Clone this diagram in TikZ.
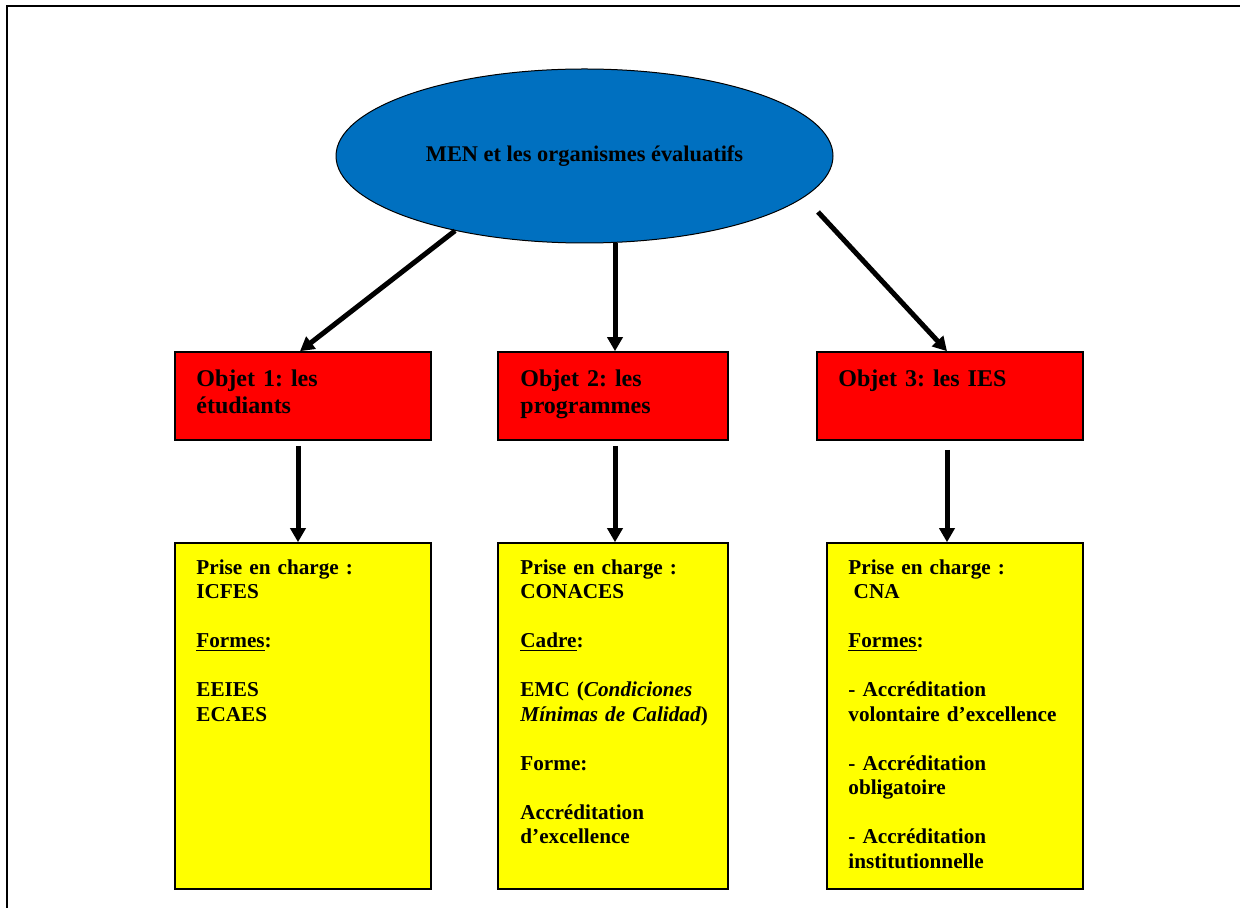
\documentclass[tikz,border=0pt]{standalone}
\usepackage{fontspec}
\setmainfont{Liberation Serif}
\usetikzlibrary{shapes.geometric,arrows.meta}
\definecolor{menblue}{RGB}{0,112,192}
\definecolor{objred}{RGB}{255,0,0}
\definecolor{formyellow}{RGB}{255,255,0}
\frenchspacing
\begin{document}
\begin{tikzpicture}[x=0.5pt,y=-0.5pt,
  frame/.style={line width=1.3pt},
  objbox/.style={draw=black,line width=0.8pt,fill=objred,minimum height=44pt,inner sep=0pt},
  formbox/.style={draw=black,line width=0.8pt,fill=formyellow,minimum height=173pt,inner sep=0pt},
  objtext/.style={anchor=north west,inner sep=0pt,text width=120pt,align=left,font=\fontsize{12}{13.5}\selectfont\bfseries},
  formtext/.style={anchor=north west,inner sep=0pt,text width=125pt,align=left,font=\fontsize{10.6}{12.25}\selectfont\bfseries},
  arr/.style={line width=2.5pt,-{Triangle[length=7pt,width=7.5pt]}}
]
\useasboundingbox (0,0) rectangle (1240,908);
\draw[frame] (7,908) -- (7,6) -- (1240,6);

\node[ellipse,draw=black,line width=0.5pt,fill=menblue,minimum width=248.5pt,minimum height=87pt,inner sep=0pt,font=\fontsize{11.2}{13}\selectfont\bfseries] (men) at (584.5,156) {MEN et les organismes évaluatifs};

\node[objbox,minimum width=128pt] (o1) at (303,396) {};
\node[objbox,minimum width=115pt] (o2) at (613,396) {};
\node[objbox,minimum width=133pt] (o3) at (950,396) {};

\node[formbox,minimum width=128pt] (f1) at (303,716) {};
\node[formbox,minimum width=115pt] (f2) at (613,716) {};
\node[formbox,minimum width=128pt] (f3) at (955,716) {};

\node[objtext] (ot1) at (196,369) {Objet 1: les\\étudiants};
\node[objtext] (ot2) at (520,369) {Objet 2: les\\programmes};
\node[objtext] (ot3) at (838,369) {Objet 3: les IES};

\node[formtext] (ft1) at (196,559) {Prise en charge :\\ICFES\\[12.25pt]\underline{Formes}:\\[12.25pt]EEIES\\ECAES};
\node[formtext] (ft2) at (520,559) {Prise en charge :\\CONACES\\[12.25pt]\underline{Cadre}:\\[12.25pt]EMC (\textit{Condiciones}\\\textit{Mínimas de Calidad})\\[12.25pt]Forme:\\[12.25pt]Accréditation\\d’excellence};
\node[formtext] (ft3) at (848,559) {Prise en charge :\\\hspace*{0.25em}CNA\\[12.25pt]\underline{Formes}:\\[12.25pt]- Accréditation\\volontaire d’excellence\\[12.25pt]- Accréditation\\obligatoire\\[12.25pt]- Accréditation\\institutionnelle};

\coordinate (s3) at (818,212);
\draw[arr] (men.210) -- ([xshift=-1.5pt]o1.north);
\draw[arr] ([xshift=15.25pt]men.south) -- ([xshift=1pt]o2.north);
\draw[arr] (s3) -- ([xshift=-1.5pt]o3.north);

\draw[arr] ([xshift=-2.5pt,yshift=-2.5pt]o1.south) -- ([xshift=-2.5pt]f1.north);
\draw[arr] ([xshift=1pt,yshift=-2.5pt]o2.south) -- ([xshift=1pt]f2.north);
\draw[arr] ([xshift=-1.5pt,yshift=-4.5pt]o3.south) -- ([xshift=-4pt]f3.north);
\end{tikzpicture}
\end{document}
